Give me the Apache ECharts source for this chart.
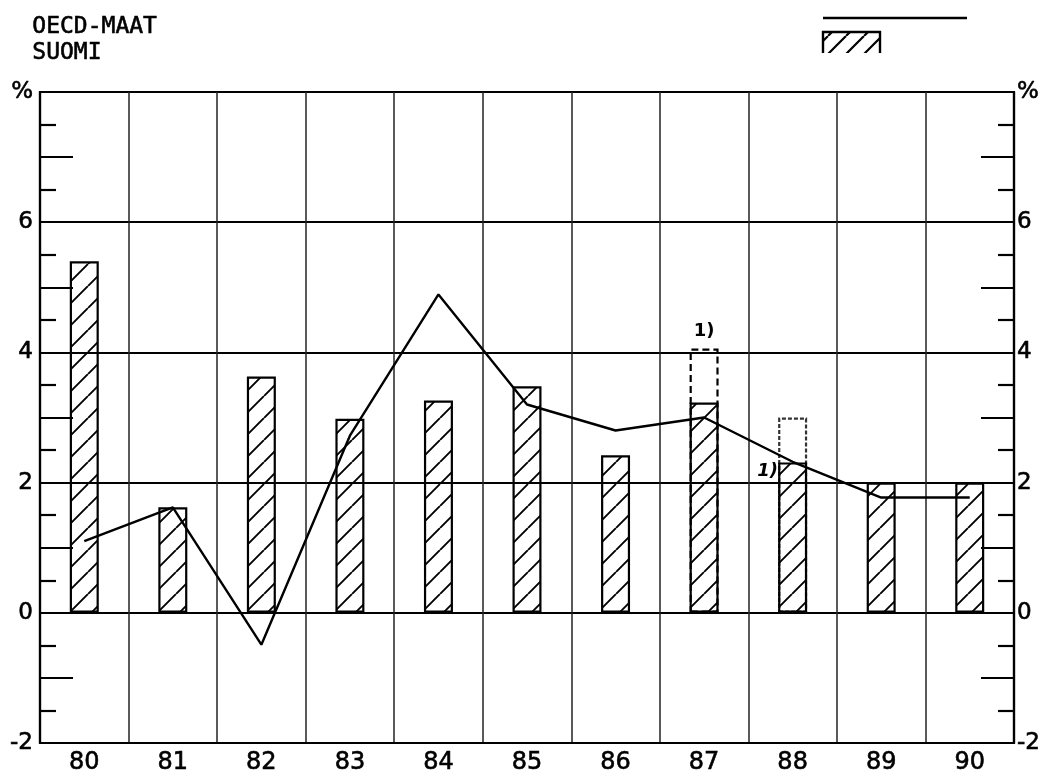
<!DOCTYPE html>
<html>
<head>
<meta charset="utf-8">
<script src="https://cdn.jsdelivr.net/npm/echarts@6/dist/echarts.min.js"></script>
<style>
html,body{margin:0;padding:0;background:#fff;}
#c{width:1052px;height:777px;}
</style>
</head>
<body>
<div id="c"></div>
<script>
// ---- data ----
var years = ['80','81','82','83','84','85','86','87','88','89','90'];
var suomi = [5.40, 1.62, 3.63, 2.98, 3.26, 3.48, 2.42, 3.23, 2.31, 2.00, 2.00];
var suomiPrelim = [null, null, null, null, null, null, null, 4.06, 3.00, null, null];
var oecd = [1.10, 1.62, -0.49, 2.72, 4.89, 3.20, 2.80, 3.00, 2.32, 1.77, 1.77];
var yLabelValues = [-2, 0, 2, 4, 6, 8];
var yLabelTexts = ['-2', '0', '2', '4', '6', '%'];
var legendNames = ['OECD-MAAT', 'SUOMI'];
var noteText = '1)';

// ---- hatch pattern ----
function makeHatch(size, lw, bg) {
  var cv = document.createElement('canvas');
  cv.width = size; cv.height = size;
  var ctx = cv.getContext('2d');
  if (bg) { ctx.fillStyle = bg; ctx.fillRect(0, 0, size, size); }
  ctx.strokeStyle = '#000';
  ctx.lineWidth = lw;
  ctx.beginPath();
  for (var k = -1; k <= 1; k++) {
    ctx.moveTo(k * size, size);
    ctx.lineTo(k * size + size, 0);
  }
  ctx.stroke();
  return cv;
}
var hatch = makeHatch(22, 1.9, null);

var labelMap = {};
yLabelValues.forEach(function (v, i) { labelMap[v] = yLabelTexts[i]; });
function yFmt(v) { return labelMap.hasOwnProperty(v) ? labelMap[v] : ''; }

var chart = echarts.init(document.getElementById('c'), null, {renderer: 'canvas'});

function yAxisCfg(pos) {
  return {
    type: 'value', position: pos, min: -2, max: 8, interval: 1,
    axisLine: {show: true, lineStyle: {color: '#000', width: 2.2}},
    axisTick: {show: true, inside: true, length: 33, lineStyle: {color: '#000', width: 2.2}},
    minorTick: {show: true, splitNumber: 2, length: 16, lineStyle: {color: '#000', width: 2.2}},
    minorSplitLine: {show: false},
    axisLabel: {
      formatter: yFmt, color: '#000', fontFamily: 'DejaVu Sans', fontSize: 23,
      textBorderColor: '#000', textBorderWidth: 0.6,
      margin: pos === 'left' ? 7 : 3, padding: [9, 0, 0, 0]
    },
    splitLine: pos === 'left' ? {show: true, lineStyle: {color: ['#000', 'rgba(0,0,0,0)'], width: 2}} : {show: false}
  };
}

var prelimData = suomiPrelim.map(function (v, i) {
  if (v == null) return null;
  var dashed = i === 7;
  return {
    value: v,
    itemStyle: {
      color: 'rgba(255,255,255,0)',
      borderColor: dashed ? '#000' : '#333',
      borderWidth: 2.2,
      borderType: dashed ? [7, 4] : [4, 2]
    },
    label: dashed ? {show: true, position: 'top', distance: 8, formatter: noteText,
      color: '#000', fontFamily: 'DejaVu Sans', fontWeight: 'bold', fontSize: 18} : {show: false}
  };
});

var suomiData = suomi.map(function (v, i) {
  if (i === 8) {
    return {value: v, label: {show: true, position: [-21, 0], formatter: noteText,
      color: '#000', fontFamily: 'DejaVu Sans', fontWeight: 'bold', fontStyle: 'italic', fontSize: 18}};
  }
  return v;
});

var option = {
  animation: false,
  backgroundColor: '#fff',
  grid: {left: 40, right: 38, top: 92, bottom: 34, show: true, borderColor: '#000', borderWidth: 2.2, backgroundColor: 'transparent'},
  xAxis: {
    type: 'category', data: years, boundaryGap: true,
    axisLine: {show: true, onZero: false, lineStyle: {color: '#000', width: 2.2}},
    axisTick: {show: false},
    axisLabel: {color: '#000', fontFamily: 'DejaVu Sans', fontSize: 24, margin: 8, textBorderColor: '#000', textBorderWidth: 0.6},
    splitLine: {show: true, interval: 0, lineStyle: {color: '#222', width: 1.5}}
  },
  yAxis: [yAxisCfg('left'), yAxisCfg('right')],
  series: [
    {
      name: 'prelim', type: 'bar', data: prelimData, barWidth: 29, barGap: '-100%', z: 2
    },
    {
      name: legendNames[1], type: 'bar', data: suomiData, barWidth: 29, barGap: '-100%', z: 3,
      itemStyle: {color: {image: hatch, repeat: 'repeat'}, borderColor: '#000', borderWidth: 2.2}
    },
    {
      name: legendNames[0], type: 'line', data: oecd, symbol: 'none', z: 5,
      lineStyle: {color: '#000', width: 2.4}
    }
  ],
  graphic: [
    {type: 'text', left: 32, top: 15, style: {text: legendNames[0], fill: '#000', font: '23px "DejaVu Sans Mono"', stroke: '#000', lineWidth: 0.6}},
    {type: 'text', left: 32, top: 41, style: {text: legendNames[1], fill: '#000', font: '23px "DejaVu Sans Mono"', stroke: '#000', lineWidth: 0.6}},
    {type: 'line', shape: {x1: 823, y1: 18, x2: 967, y2: 18}, style: {stroke: '#000', lineWidth: 2.4}},
    {type: 'rect', shape: {x: 823, y: 32, width: 57, height: 21}, style: {fill: {image: makeHatch(18, 2.2, '#fff'), repeat: 'repeat'}, stroke: null}},
    {type: 'polyline', shape: {points: [[823, 53], [823, 32], [880, 32], [880, 53]]}, style: {stroke: '#000', lineWidth: 2.4, fill: null}}
  ]
};
chart.setOption(option);
</script>
</body>
</html>
